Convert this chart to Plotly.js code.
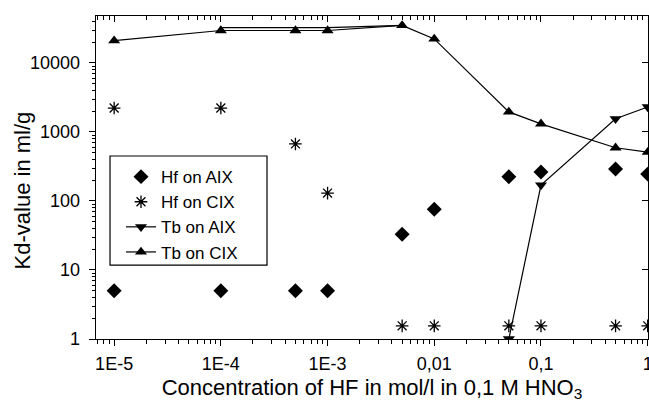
<!DOCTYPE html>
<html><head><meta charset="utf-8">
<script src="https://cdn.plot.ly/plotly-3.0.1.min.js"></script>
<style>html,body{margin:0;padding:0;background:#fff}#plot{width:649px;height:405px}</style>
</head><body><div id="plot"></div>
<script>
// Concentration of HF (mol/l)
const conc = [1e-5, 1e-4, 5e-4, 1e-3, 5e-3, 0.01, 0.05, 0.1, 0.5, 1];
// Kd values (ml/g)
const hfAIX = [5, 5, 5, 5, 33, 76, 224, 263, 290, 245];
const hfCIX = [2220, 2220, 670, 130, 1.55, 1.55, 1.55, 1.55, 1.55, 1.55];
const tbAIXconc = [0.05, 0.1, 0.5, 1];
const tbAIX = [1, 170, 1550, 2300];
const tbCIX = [21000, 29500, 29500, 29500, 35000, 22300, 1950, 1310, 590, 510];
// second (duplicate) Tb-on-CIX path visible in the original
const tbCIX2conc = [1e-4, 1e-3, 5e-3];
const tbCIX2 = [32500, 32500, 35000];

const xTickVals = [1e-5, 1e-4, 1e-3, 0.01, 0.1, 1];
const xTickText = ['1E-5', '1E-4', '1E-3', '0,01', '0,1', '1'];
const yTickVals = [1, 10, 100, 1000, 10000];
const yTickText = ['1', '10', '100', '1000', '10000'];

function minorVals(lo, hi) {
  const v = [];
  for (let e = lo; e <= hi; e++) for (let m = 2; m <= 9; m++) v.push(m * Math.pow(10, e));
  return v;
}
const xMinor = minorVals(-6, 0);
const yMinor = minorVals(0, 4);

const font = {family: 'Liberation Sans, Arial, sans-serif', color: '#000'};
const xr = [-5.17, 0.003];
const yr = [0, 4.68];

const traces = [
  {x: conc, y: hfAIX, name: 'Hf on AIX', mode: 'markers', type: 'scatter',
   marker: {symbol: 'diamond', size: 11.5, color: '#000'}},
  {x: conc, y: hfCIX, name: 'Hf on CIX', mode: 'markers', type: 'scatter',
   marker: {symbol: 'asterisk-open', size: 10.5, color: '#000', line: {color: '#000', width: 1.3}}},
  {x: tbAIXconc, y: tbAIX, name: 'Tb on AIX', mode: 'lines+markers', type: 'scatter',
   line: {color: '#000', width: 1.2}, marker: {symbol: 'triangle-down', size: 10.5, color: '#000'}},
  {x: conc, y: tbCIX, name: 'Tb on CIX', mode: 'lines+markers', type: 'scatter',
   line: {color: '#000', width: 1.2}, marker: {symbol: 'triangle-up', size: 10.5, color: '#000'}},
  {x: tbCIX2conc, y: tbCIX2, mode: 'lines', type: 'scatter', showlegend: false,
   line: {color: '#000', width: 1.2}, hoverinfo: 'skip'},
  {x: [], y: [], xaxis: 'x2', yaxis: 'y2', type: 'scatter', mode: 'markers', showlegend: false}
];

const layout = {
  width: 649, height: 405,
  margin: {l: 96, r: 1, t: 16, b: 66},
  paper_bgcolor: '#fff', plot_bgcolor: '#fff',
  font: Object.assign({size: 17}, font),
  showlegend: true,
  legend: {x: 0.0453, y: 0.557, xanchor: 'left', yanchor: 'top',
    borderwidth: 0, bgcolor: 'rgba(0,0,0,0)',
    font: Object.assign({size: 17}, font), tracegroupgap: 0},
  shapes: [{type: 'rect', xref: 'paper', yref: 'paper',
    x0: 0.0254, x1: 0.3098, y0: 0.229, y1: 0.5666,
    line: {color: '#000', width: 1.2}, fillcolor: 'rgba(0,0,0,0)', layer: 'above'}],
  xaxis: {type: 'log', range: xr, showgrid: false, zeroline: false,
    showline: true, linecolor: '#000', linewidth: 1.3,
    ticks: 'outside', ticklen: 6, tickwidth: 1, tickcolor: '#000',
    tickmode: 'array', tickvals: xTickVals, ticktext: xTickText,
    ticklabeloverflow: 'allow', ticklabelstandoff: 2,
    tickfont: Object.assign({size: 18}, font),
    minor: {tickmode: 'array', tickvals: xMinor, ticks: 'outside', ticklen: 4, tickcolor: '#000', showgrid: false},
    title: {text: 'Concentration of HF in mol/l in 0,1 M HNO<sub>3</sub>', font: Object.assign({size: 22}, font), standoff: 6}},
  yaxis: {type: 'log', range: yr, showgrid: false, zeroline: false,
    showline: true, linecolor: '#000', linewidth: 1.3,
    ticks: 'outside', ticklen: 6, tickwidth: 1, tickcolor: '#000',
    tickmode: 'array', tickvals: yTickVals, ticktext: yTickText,
    ticklabelstandoff: 5,
    tickfont: Object.assign({size: 18}, font),
    minor: {tickmode: 'array', tickvals: yMinor, ticks: 'outside', ticklen: 3, tickcolor: '#000', showgrid: false}},
  xaxis2: {type: 'log', range: xr, overlaying: 'x', side: 'top', anchor: 'y',
    showgrid: false, zeroline: false, showline: true, linecolor: '#000', linewidth: 1.3,
    ticks: 'inside', ticklen: 6, tickcolor: '#000', showticklabels: false,
    tickmode: 'array', tickvals: xTickVals,
    minor: {tickmode: 'array', tickvals: xMinor, ticks: 'inside', ticklen: 4, tickcolor: '#000', showgrid: false}},
  yaxis2: {type: 'log', range: yr, overlaying: 'y', side: 'right', anchor: 'x',
    showgrid: false, zeroline: false, showline: true, linecolor: '#000', linewidth: 1.3,
    ticks: 'inside', ticklen: 6, tickcolor: '#000', showticklabels: false,
    tickmode: 'array', tickvals: yTickVals},
  annotations: [{text: 'Kd-value in ml/g', textangle: -90, showarrow: false,
    xref: 'paper', yref: 'paper', x: -0.134, y: 0.46, xanchor: 'center', yanchor: 'middle',
    font: Object.assign({size: 22}, font)}]
};

Plotly.newPlot('plot', traces, layout, {displayModeBar: false, staticPlot: true});
</script></body></html>
